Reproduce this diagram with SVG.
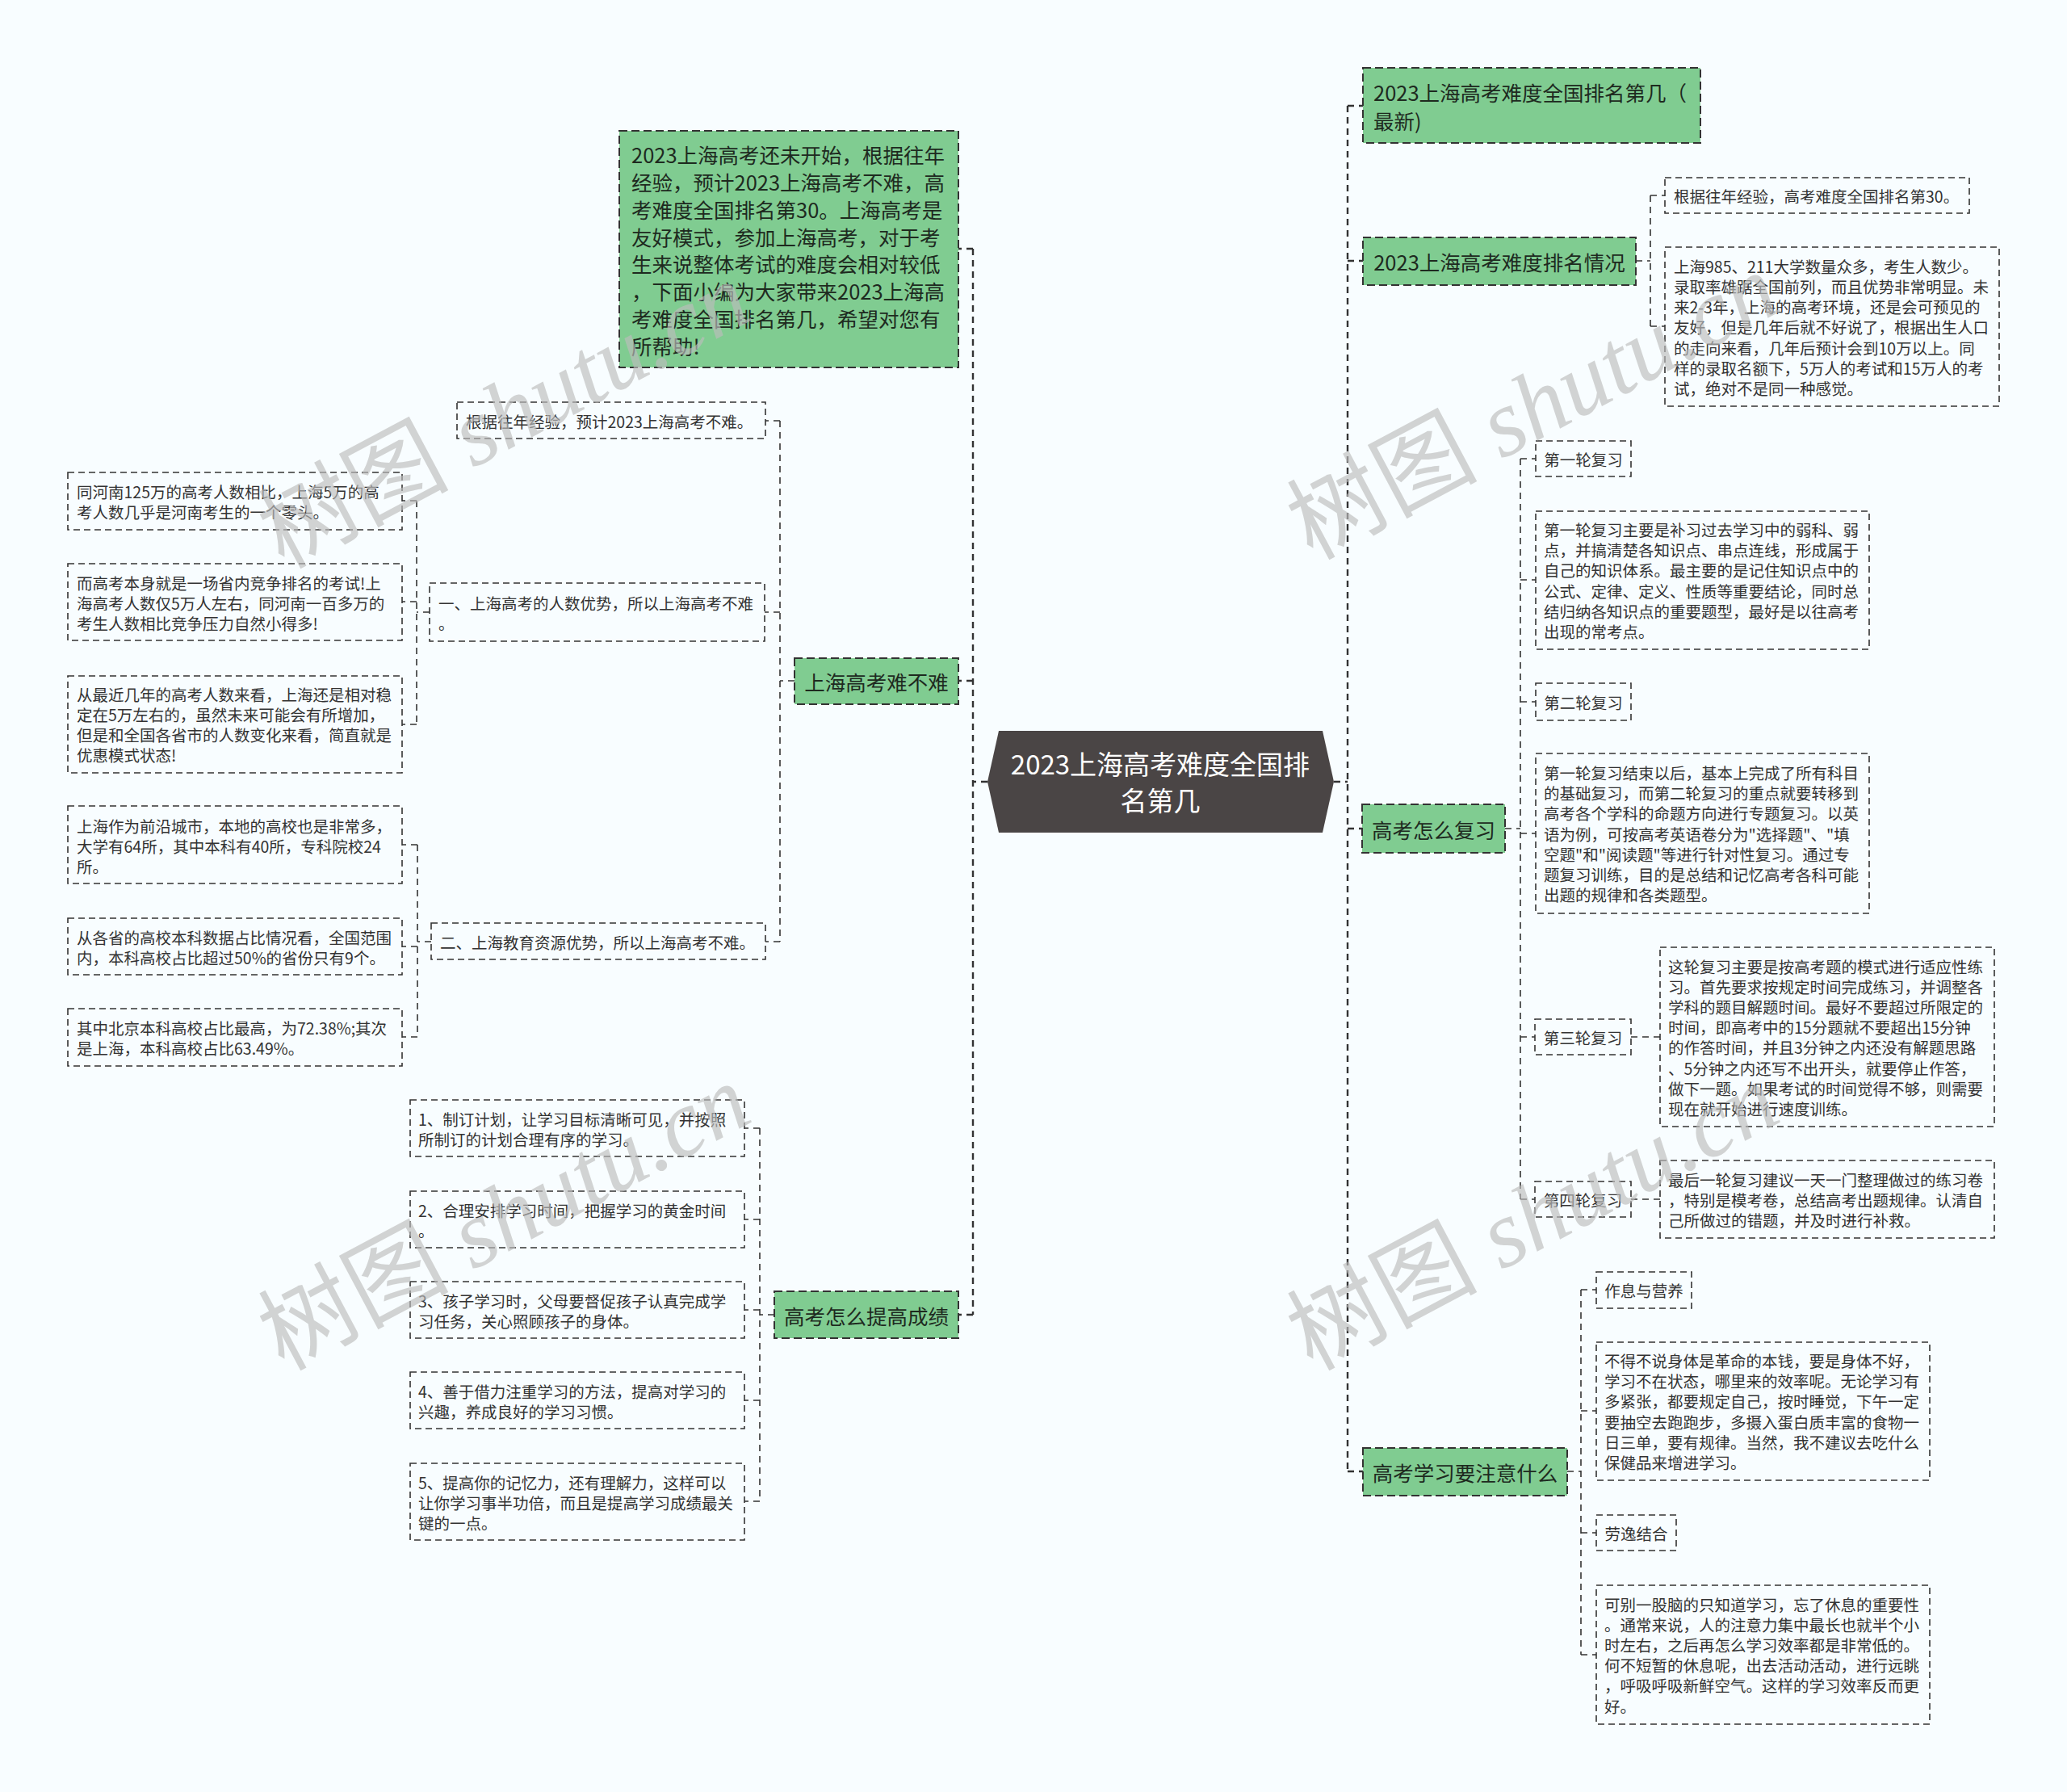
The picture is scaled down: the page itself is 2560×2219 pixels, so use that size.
<svg xmlns="http://www.w3.org/2000/svg" width="2560" height="2219" viewBox="0 0 2560 2219">
<style>
.bg{fill:#f8fdff}
.g{fill:#80cc91;stroke:#333;stroke-width:2;stroke-dasharray:10 5}
.n{fill:#f8fdff;stroke:#333;stroke-width:1.6;stroke-dasharray:8 5}
.c{fill:none;stroke:#333;stroke-width:1.6;stroke-dasharray:8 6}
.cm{fill:none;stroke:#333;stroke-width:2.4;stroke-dasharray:8 6}
text{font-family:"Noto Sans CJK SC","Noto Sans",sans-serif;dominant-baseline:central}
.s{font-size:19.5px;fill:#333}
.m{font-size:25.5px;fill:#1e2a1f}
.mc{font-size:25.5px;fill:#1e2a1f;text-anchor:middle}
.sc{font-size:19.5px;fill:#333;text-anchor:middle}
.r{font-size:33px;fill:#fff;text-anchor:middle}
.wm{font-family:"Liberation Serif","Noto Sans CJK SC",serif;font-size:118px;fill:#bdbdbd;opacity:0.65;dominant-baseline:auto}
</style>
<rect class="bg" x="0" y="0" width="2560" height="2219"/>

<g id="connectors">
<path class="cm" d="M1223 968H1205M1205 308V1628M1205 308H1187M1205 843H1187M1205 1628H1187"/>
<path class="cm" d="M1652 968H1669M1669 131V1822M1669 131H1688M1669 323H1688M1669 1026H1687M1669 1822H1688"/>
<path class="c" d="M984 843H966M966 521V1166M966 521H948M966 758H947M966 1166H948"/>
<path class="c" d="M532 758H516M516 620V897M516 620H498M516 745H498M516 897H498"/>
<path class="c" d="M534 1166H517M517 1046V1284M517 1046H498M517 1172H498M517 1284H498"/>
<path class="c" d="M959 1628H941M941 1397V1859M941 1397H922M941 1510H922M941 1622H922M941 1734H922M941 1859H922"/>
<path class="c" d="M2026 323H2044M2044 242V404M2044 242H2062M2044 404H2062"/>
<path class="c" d="M1864 1026H1883M1883 568V1485M1883 568H1902M1883 718H1902M1883 869H1902M1883 1032H1902M1883 1284H1901M1883 1485H1901"/>
<path class="c" d="M2020 1284H2056M2020 1485H2056"/>
<path class="c" d="M1941 1822H1958M1958 1597V2049M1958 1597H1977M1958 1747H1977M1958 1898H1977M1958 2049H1977"/>
</g>

<g id="root">
<polygon points="1223,968 1237,905 1638,905 1652,968 1638,1031 1237,1031" fill="#4a4545"/>
<text class="r" x="1437" y="945">2023上海高考难度全国排</text>
<text class="r" x="1437" y="990">名第几</text>
</g>

<g id="intro">
<rect class="g" x="767" y="162" width="420" height="293"/>
<text class="m" x="782" y="190">2023上海高考还未开始，根据往年</text>
<text class="m" x="782" y="224">经验，预计2023上海高考不难，高</text>
<text class="m" x="782" y="258">考难度全国排名第30。上海高考是</text>
<text class="m" x="782" y="292">友好模式，参加上海高考，对于考</text>
<text class="m" x="782" y="325">生来说整体考试的难度会相对较低</text>
<text class="m" x="782" y="359">，下面小编为大家带来2023上海高</text>
<text class="m" x="782" y="393">考难度全国排名第几，希望对您有</text>
<text class="m" x="782" y="427">所帮助!</text>
</g>

<g id="nanbunan">
<rect class="g" x="984" y="815" width="203" height="57"/>
<text class="mc" x="1085.5" y="843">上海高考难不难</text>
</g>

<g id="l-yuji">
<rect class="n" x="566" y="498" width="382" height="45"/>
<text class="s" x="577" y="521">根据往年经验，预计2023上海高考不难。</text>
</g>

<g id="l-renshu">
<rect class="n" x="532" y="722" width="415" height="72"/>
<text class="s" x="543" y="746">一、上海高考的人数优势，所以上海高考不难</text>
<text class="s" x="543" y="771">。</text>
</g>

<g id="l-r1">
<rect class="n" x="84" y="585" width="414" height="71"/>
<text class="s" x="95" y="608">同河南125万的高考人数相比，上海5万的高</text>
<text class="s" x="95" y="633">考人数几乎是河南考生的一个零头。</text>
</g>
<g id="l-r2">
<rect class="n" x="84" y="698" width="414" height="95"/>
<text class="s" x="95" y="721">而高考本身就是一场省内竞争排名的考试!上</text>
<text class="s" x="95" y="746">海高考人数仅5万人左右，同河南一百多万的</text>
<text class="s" x="95" y="771">考生人数相比竞争压力自然小得多!</text>
</g>
<g id="l-r3">
<rect class="n" x="84" y="837" width="414" height="120"/>
<text class="s" x="95" y="859">从最近几年的高考人数来看，上海还是相对稳</text>
<text class="s" x="95" y="884">定在5万左右的，虽然未来可能会有所增加，</text>
<text class="s" x="95" y="909">但是和全国各省市的人数变化来看，简直就是</text>
<text class="s" x="95" y="934">优惠模式状态!</text>
</g>

<g id="l-ziyuan">
<rect class="n" x="534" y="1143" width="414" height="45"/>
<text class="s" x="545" y="1166">二、上海教育资源优势，所以上海高考不难。</text>
</g>
<g id="l-z1">
<rect class="n" x="84" y="998" width="414" height="96"/>
<text class="s" x="95" y="1022">上海作为前沿城市，本地的高校也是非常多，</text>
<text class="s" x="95" y="1047">大学有64所，其中本科有40所，专科院校24</text>
<text class="s" x="95" y="1072">所。</text>
</g>
<g id="l-z2">
<rect class="n" x="84" y="1137" width="414" height="70"/>
<text class="s" x="95" y="1160">从各省的高校本科数据占比情况看，全国范围</text>
<text class="s" x="95" y="1185">内，本科高校占比超过50%的省份只有9个。</text>
</g>
<g id="l-z3">
<rect class="n" x="84" y="1249" width="414" height="71"/>
<text class="s" x="95" y="1272">其中北京本科高校占比最高，为72.38%;其次</text>
<text class="s" x="95" y="1297">是上海，本科高校占比63.49%。</text>
</g>

<g id="tigao">
<rect class="g" x="959" y="1599" width="228" height="58"/>
<text class="mc" x="1073" y="1628">高考怎么提高成绩</text>
</g>
<g id="t1">
<rect class="n" x="508" y="1362" width="414" height="70"/>
<text class="s" x="518" y="1385">1、制订计划，让学习目标清晰可见，并按照</text>
<text class="s" x="518" y="1410">所制订的计划合理有序的学习。</text>
</g>
<g id="t2">
<rect class="n" x="508" y="1475" width="414" height="70"/>
<text class="s" x="518" y="1498">2、合理安排学习时间，把握学习的黄金时间</text>
<text class="s" x="518" y="1523">。</text>
</g>
<g id="t3">
<rect class="n" x="508" y="1587" width="414" height="70"/>
<text class="s" x="518" y="1610">3、孩子学习时，父母要督促孩子认真完成学</text>
<text class="s" x="518" y="1635">习任务，关心照顾孩子的身体。</text>
</g>
<g id="t4">
<rect class="n" x="508" y="1699" width="414" height="70"/>
<text class="s" x="518" y="1722">4、善于借力注重学习的方法，提高对学习的</text>
<text class="s" x="518" y="1747">兴趣，养成良好的学习习惯。</text>
</g>
<g id="t5">
<rect class="n" x="508" y="1812" width="414" height="95"/>
<text class="s" x="518" y="1835">5、提高你的记忆力，还有理解力，这样可以</text>
<text class="s" x="518" y="1860">让你学习事半功倍，而且是提高学习成绩最关</text>
<text class="s" x="518" y="1885">键的一点。</text>
</g>

<g id="r-title">
<rect class="g" x="1688" y="84" width="418" height="93"/>
<text class="m" x="1701" y="113">2023上海高考难度全国排名第几（</text>
<text class="m" x="1701" y="148">最新)</text>
</g>

<g id="r-qingkuang">
<rect class="g" x="1688" y="294" width="338" height="59"/>
<text class="mc" x="1857" y="323.5">2023上海高考难度排名情况</text>
</g>
<g id="r-q1">
<rect class="n" x="2062" y="220" width="377" height="44"/>
<text class="s" x="2073" y="242">根据往年经验，高考难度全国排名第30。</text>
</g>
<g id="r-q2">
<rect class="n" x="2062" y="306" width="414" height="197"/>
<text class="s" x="2073" y="329">上海985、211大学数量众多，考生人数少。</text>
<text class="s" x="2073" y="354.3">录取率雄踞全国前列，而且优势非常明显。未</text>
<text class="s" x="2073" y="379.6">来2-3年，上海的高考环境，还是会可预见的</text>
<text class="s" x="2073" y="404.9">友好，但是几年后就不好说了，根据出生人口</text>
<text class="s" x="2073" y="430.2">的走向来看，几年后预计会到10万以上。同</text>
<text class="s" x="2073" y="455.5">样的录取名额下，5万人的考试和15万人的考</text>
<text class="s" x="2073" y="480.8">试，绝对不是同一种感觉。</text>
</g>

<g id="r-fuxi">
<rect class="g" x="1687" y="996" width="177" height="60"/>
<text class="mc" x="1775.5" y="1026">高考怎么复习</text>
</g>
<g id="f1">
<rect class="n" x="1902" y="546" width="118" height="44"/>
<text class="sc" x="1961" y="568">第一轮复习</text>
</g>
<g id="f1t">
<rect class="n" x="1902" y="633" width="413" height="171"/>
<text class="s" x="1912" y="655.5">第一轮复习主要是补习过去学习中的弱科、弱</text>
<text class="s" x="1912" y="680.7">点，并搞清楚各知识点、串点连线，形成属于</text>
<text class="s" x="1912" y="705.9">自己的知识体系。最主要的是记住知识点中的</text>
<text class="s" x="1912" y="731.1">公式、定律、定义、性质等重要结论，同时总</text>
<text class="s" x="1912" y="756.3">结归纳各知识点的重要题型，最好是以往高考</text>
<text class="s" x="1912" y="781.5">出现的常考点。</text>
</g>
<g id="f2">
<rect class="n" x="1902" y="846" width="118" height="46"/>
<text class="sc" x="1961" y="869">第二轮复习</text>
</g>
<g id="f2t">
<rect class="n" x="1902" y="933" width="413" height="198"/>
<text class="s" x="1912" y="956.5">第一轮复习结束以后，基本上完成了所有科目</text>
<text class="s" x="1912" y="981.7">的基础复习，而第二轮复习的重点就要转移到</text>
<text class="s" x="1912" y="1006.9">高考各个学科的命题方向进行专题复习。以英</text>
<text class="s" x="1912" y="1032.1">语为例，可按高考英语卷分为"选择题"、"填</text>
<text class="s" x="1912" y="1057.3">空题"和"阅读题"等进行针对性复习。通过专</text>
<text class="s" x="1912" y="1082.5">题复习训练，目的是总结和记忆高考各科可能</text>
<text class="s" x="1912" y="1107.7">出题的规律和各类题型。</text>
</g>
<g id="f3">
<rect class="n" x="1901" y="1262" width="119" height="44"/>
<text class="sc" x="1960.5" y="1284">第三轮复习</text>
</g>
<g id="f3t">
<rect class="n" x="2056" y="1173" width="414" height="222"/>
<text class="s" x="2066" y="1196">这轮复习主要是按高考题的模式进行适应性练</text>
<text class="s" x="2066" y="1221.2">习。首先要求按规定时间完成练习，并调整各</text>
<text class="s" x="2066" y="1246.4">学科的题目解题时间。最好不要超过所限定的</text>
<text class="s" x="2066" y="1271.6">时间，即高考中的15分题就不要超出15分钟</text>
<text class="s" x="2066" y="1296.8">的作答时间，并且3分钟之内还没有解题思路</text>
<text class="s" x="2066" y="1322">、5分钟之内还写不出开头，就要停止作答，</text>
<text class="s" x="2066" y="1347.2">做下一题。如果考试的时间觉得不够，则需要</text>
<text class="s" x="2066" y="1372.4">现在就开始进行速度训练。</text>
</g>
<g id="f4">
<rect class="n" x="1901" y="1463" width="119" height="44"/>
<text class="sc" x="1960.5" y="1485">第四轮复习</text>
</g>
<g id="f4t">
<rect class="n" x="2056" y="1437" width="414" height="96"/>
<text class="s" x="2066" y="1460">最后一轮复习建议一天一门整理做过的练习卷</text>
<text class="s" x="2066" y="1485">，特别是模考卷，总结高考出题规律。认清自</text>
<text class="s" x="2066" y="1510">己所做过的错题，并及时进行补救。</text>
</g>

<g id="r-zhuyi">
<rect class="g" x="1688" y="1793" width="253" height="59"/>
<text class="mc" x="1814.5" y="1822.5">高考学习要注意什么</text>
</g>
<g id="z1">
<rect class="n" x="1977" y="1575" width="118" height="45"/>
<text class="sc" x="2036" y="1597.5">作息与营养</text>
</g>
<g id="z1t">
<rect class="n" x="1977" y="1662" width="413" height="171"/>
<text class="s" x="1987" y="1684.5">不得不说身体是革命的本钱，要是身体不好，</text>
<text class="s" x="1987" y="1709.7">学习不在状态，哪里来的效率呢。无论学习有</text>
<text class="s" x="1987" y="1734.9">多紧张，都要规定自己，按时睡觉，下午一定</text>
<text class="s" x="1987" y="1760.1">要抽空去跑跑步，多摄入蛋白质丰富的食物一</text>
<text class="s" x="1987" y="1785.3">日三单，要有规律。当然，我不建议去吃什么</text>
<text class="s" x="1987" y="1810.5">保健品来增进学习。</text>
</g>
<g id="z2">
<rect class="n" x="1977" y="1876" width="99" height="44"/>
<text class="sc" x="2026.5" y="1898">劳逸结合</text>
</g>
<g id="z2t">
<rect class="n" x="1977" y="1963" width="413" height="172"/>
<text class="s" x="1987" y="1986">可别一股脑的只知道学习，忘了休息的重要性</text>
<text class="s" x="1987" y="2011.2">。通常来说，人的注意力集中最长也就半个小</text>
<text class="s" x="1987" y="2036.4">时左右，之后再怎么学习效率都是非常低的。</text>
<text class="s" x="1987" y="2061.6">何不短暂的休息呢，出去活动活动，进行远眺</text>
<text class="s" x="1987" y="2086.8">，呼吸呼吸新鲜空气。这样的学习效率反而更</text>
<text class="s" x="1987" y="2112">好。</text>
</g>

<g id="watermarks">
<text class="wm" x="351" y="705" transform="rotate(-28 351 705)">树图 <tspan font-style="italic">shutu.cn</tspan></text>
<text class="wm" x="351" y="1698" transform="rotate(-28 351 1698)">树图 <tspan font-style="italic">shutu.cn</tspan></text>
<text class="wm" x="1625" y="694" transform="rotate(-28 1625 694)">树图 <tspan font-style="italic">shutu.cn</tspan></text>
<text class="wm" x="1625" y="1698" transform="rotate(-28 1625 1698)">树图 <tspan font-style="italic">shutu.cn</tspan></text>
</g>
</svg>
